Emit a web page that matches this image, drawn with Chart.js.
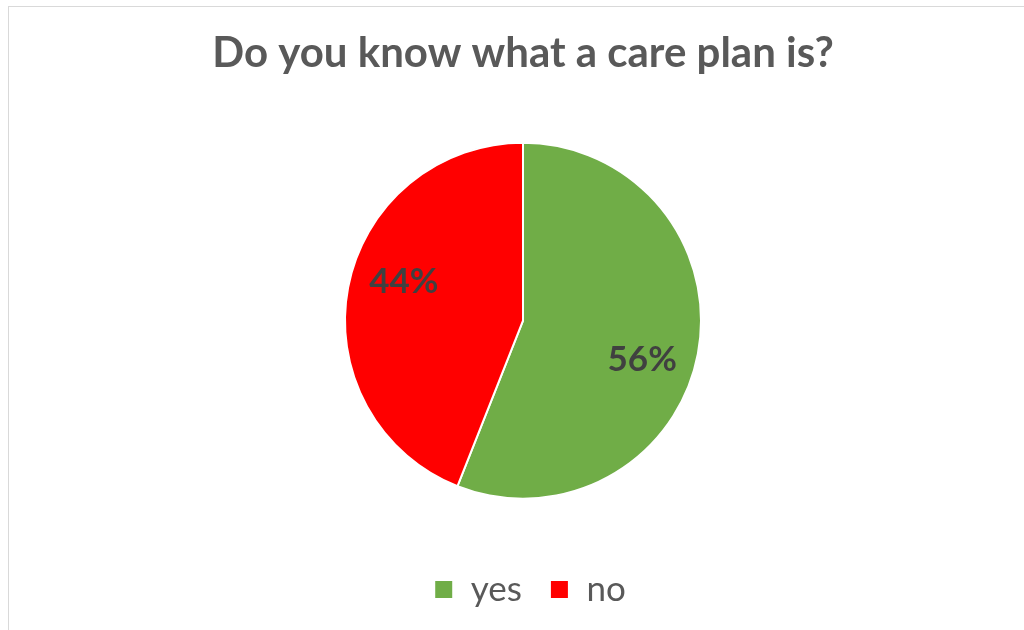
<!DOCTYPE html>
<html lang="en">
<head>
  <meta charset="UTF-8" />
  <title>Do you know what a care plan is?</title>
  <script src="https://cdn.jsdelivr.net/npm/chart.js"></script>
  <style>
    html, body {
      margin: 0;
      background: #ffffff;
      overflow: hidden;
    }

    .frame {
      position: absolute;
      left: 8px;
      top: 6px;
      width: 1028px;
      height: 638px;
      border: 1px solid #d9d9d9;
    }
  </style>
</head>
<body>
  <div class="frame">
    <canvas id="pieChart" width="1028" height="638"></canvas>
  </div>

  <script>
    // values
    const answers = ['yes', 'no'];
    const shares = [56, 44];
    const sliceColors = ['#70AD47', '#FF0000'];

    // percent labels inside the slices
    const sliceLabels = {
      id: 'sliceLabels',
      afterDatasetsDraw(chart) {
        const ctx = chart.ctx;
        const meta = chart.getDatasetMeta(0);
        const total = shares.reduce((a, b) => a + b, 0);
        ctx.save();
        ctx.font = 'bold 35px Lato';
        ctx.fillStyle = '#404040';
        ctx.textAlign = 'center';
        ctx.textBaseline = 'middle';
        meta.data.forEach((arc, i) => {
          const p = arc.getProps(['x', 'y', 'startAngle', 'endAngle', 'outerRadius'], true);
          const mid = (p.startAngle + p.endAngle) / 2 + 7.4 * Math.PI / 180;
          const r = p.outerRadius * 0.705;
          const txt = Math.round(shares[i] / total * 100) + '%';
          ctx.fillText(txt, p.x + Math.cos(mid) * r, p.y + Math.sin(mid) * r);
        });
        ctx.restore();
      }
    };

    // legend sits a little right of centre in the original
    const legendNudge = {
      id: 'legendNudge',
      afterLayout(chart) {
        chart.legend.left += 7;
        chart.legend.right += 7;
      }
    };

    new Chart(document.getElementById('pieChart'), {
      type: 'pie',
      data: {
        labels: answers,
        datasets: [{
          data: shares,
          backgroundColor: sliceColors,
          borderColor: '#ffffff',
          borderWidth: 2,
          radius: 178
        }]
      },
      options: {
        responsive: false,
        animation: false,
        layout: { padding: { bottom: 28 } },
        plugins: {
          title: {
            display: true,
            text: 'Do you know what a care plan is?',
            color: '#595959',
            font: { family: 'Lato', size: 42, weight: 'bold' },
            padding: { top: 21, bottom: 19 }
          },
          legend: {
            position: 'bottom',
            labels: {
              color: '#595959',
              font: { family: 'Lato', size: 35 },
              boxWidth: 19,
              boxHeight: 19,
              padding: 28
            }
          },
          tooltip: { enabled: false }
        }
      },
      plugins: [sliceLabels, legendNudge]
    });
  </script>
</body>
</html>
